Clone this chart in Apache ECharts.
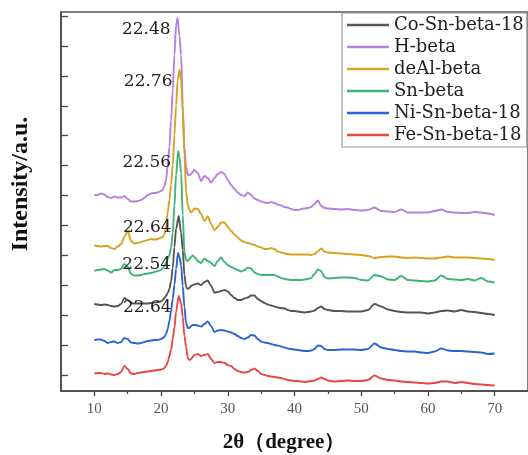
<!DOCTYPE html>
<html>
<head>
<meta charset="utf-8">
<script src="https://cdn.jsdelivr.net/npm/echarts@6/dist/echarts.min.js"></script>
<style>
  html, body { margin: 0; padding: 0; background: #fff; }
  #chart { width: 528px; height: 455px; }
</style>
</head>
<body>
<div id="chart"></div>
<script>
// Diffraction angle grid (degrees), finer around the main reflection
const twoTheta = [
  10, 10.5, 11, 11.5, 12, 12.5, 13, 13.5, 14, 14.5, 15, 15.5, 16, 16.5, 17, 17.5, 18, 18.5, 19, 19.5, 20,
  20.25, 20.5, 20.75, 21, 21.25, 21.5, 21.75, 22, 22.25, 22.5, 22.75, 23, 23.25, 23.5, 23.75, 24, 24.25, 24.5, 24.75, 25,
  25.5, 26, 26.5, 27, 27.5, 28, 28.5, 29, 29.5, 30, 30.5, 31, 31.5, 32, 32.5, 33, 33.5, 34, 34.5, 35,
  35.5, 36, 36.5, 37, 37.5, 38, 38.5, 39, 39.5, 40, 40.5, 41, 41.5, 42, 42.5, 43, 43.5, 44, 44.5, 45,
  46, 47, 48, 49, 50, 51, 52, 53, 54, 55, 56, 57, 58, 59, 60, 61, 62, 63, 64, 65, 66, 67, 68, 69, 70
];

// Stacked intensity traces (offset, arbitrary units)
const hBeta = [
  196, 196, 197.5, 196.5, 194, 193, 194.5, 193.5, 193.5, 195, 192, 189.5, 189.5, 190, 191, 193, 196, 197.5, 198, 198.5, 200,
  201, 205, 211, 226, 244, 271, 301, 336, 366, 372, 355, 336, 286, 244, 224, 216, 216, 217, 219, 221,
  218, 210, 215, 213, 208.5, 213, 217, 219, 217, 211, 206, 202, 198.5, 196, 195, 198.5, 196, 192.5, 191, 189.5,
  188.5, 188, 189, 188, 186.5, 185.5, 184, 183.5, 182, 181, 181, 182, 182.5, 183, 184, 187, 190.5, 185, 183, 182.5,
  182, 181.5, 182, 181, 180.5, 181, 183.5, 180, 179.5, 179, 181.5, 178.5, 178.5, 178.5, 178.5, 180, 181.5, 179, 178.5, 178, 178, 179, 178.5, 177.5, 176
];
const deAlBeta = [
  145.5, 145, 144.5, 145, 145, 143, 142, 144.5, 147, 154, 160, 150, 147.5, 148, 149, 150, 151, 152, 151.5, 152, 153.5,
  154, 157, 163, 179, 191, 206, 226, 256, 286, 311, 320, 311, 279, 236, 199, 186, 181, 178.5, 180, 182.5,
  182, 177, 170, 174.5, 167, 161, 164, 168.5, 168.5, 164, 160, 156.5, 153.5, 150.5, 149, 148, 147, 146, 144.5, 143.5,
  142, 142, 143, 142, 139.5, 138.5, 137.5, 137, 136.5, 136.5, 136.5, 136.5, 136.5, 136.5, 136, 137, 139.5, 142.5, 139.5, 138.5,
  138, 137.5, 137, 136.5, 136, 135, 133, 134, 134.5, 134.5, 133.5, 133, 133.5, 133, 132.5, 132.5, 133.5, 134.5, 133.5, 133.5, 133.5, 133, 132.5, 132, 131
];
const snBeta = [
  120, 121, 121.5, 122, 120.5, 118.5, 121, 121, 122, 127, 124, 117, 115.5, 115.5, 116, 117, 117.5, 118, 119, 120, 121,
  123, 125, 128, 132, 136, 143, 158, 185, 216, 238, 234, 218, 176, 139, 131, 130, 132, 134, 135.5, 134,
  130, 128, 132.5, 130, 128, 125, 130, 133.5, 129, 126, 124, 122.5, 121, 119.5, 121, 123.5, 122.5, 118.5, 117, 116,
  116, 116, 116, 116, 114.5, 113, 112, 111.5, 111, 111, 111, 111, 111.5, 112, 113, 117, 121.5, 120, 114, 112.5,
  113, 113.5, 113.5, 113, 111, 110.5, 116, 114.5, 111.5, 111, 115, 111, 110.5, 110, 109.5, 110.5, 115.5, 112, 111.5, 111, 112, 110.5, 113, 109.5, 108.5
];
const coSnBeta18 = [
  87, 86.5, 86, 86.5, 86, 85, 84.5, 85, 87, 93, 91, 88, 87.5, 87.5, 87.5, 87.5, 87.5, 88, 88.5, 89, 89.5,
  91, 93, 95, 98, 102, 110, 123, 144, 162, 173, 172, 158, 141, 116, 104, 102, 103, 105, 106, 106.5,
  107.5, 106, 109, 110.5, 105, 98.5, 99, 100, 101, 99.5, 96, 93, 91, 91, 92.5, 93.5, 95.5, 95.5, 92, 90,
  88, 86.5, 85.5, 84.5, 83.5, 83, 82.5, 81, 80, 80, 79.5, 79, 78.5, 79, 79.5, 80.5, 83, 84.5, 82, 81,
  80, 80, 79.5, 79.5, 79.5, 81, 87, 84.5, 81.5, 80, 79, 78.5, 78.5, 78.5, 77.5, 78.5, 80, 80.5, 79.5, 81, 79.5, 79, 78, 77, 76
];
const niSnBeta18 = [
  51, 51.5, 51.5, 50, 48, 49, 49.5, 48, 49, 53, 52, 48.5, 48, 47.5, 48, 49, 50, 50.5, 51, 51, 52,
  53, 54, 57, 62, 70, 80, 92, 106, 122, 137, 134, 126, 105, 84, 68, 63, 63, 65, 66, 66,
  65.5, 64.5, 67, 69.5, 65, 59, 60.5, 61, 60.5, 59.5, 58.5, 57, 55, 53, 52, 53.5, 56, 55.5, 52, 49.5,
  48.5, 48, 47, 46, 45.5, 44.5, 43.5, 42.5, 42, 41.5, 41, 40.5, 40, 40, 40.5, 42, 45.5, 45, 42, 41,
  41, 41.5, 41.5, 41.5, 41, 42, 47.5, 43.5, 42, 41, 40, 39.5, 39.5, 38.5, 38, 39.5, 42.5, 40.5, 40, 40, 39.5, 39, 38.5, 37, 37.5
];
const feSnBeta18 = [
  17.5, 18, 18, 17, 17.5, 16.5, 16, 17, 19, 25, 22, 17.5, 17, 18, 18.5, 19, 19.5, 20, 20.5, 21, 21.5,
  22, 23, 25, 29, 35, 41, 52, 63, 79, 92, 94, 88, 74, 55, 44, 33, 31, 32, 34, 36,
  37, 35, 36, 37, 32, 28, 29, 29, 28, 26, 25, 22, 20, 19, 18.5, 19, 21, 22.5, 20, 17,
  16, 15, 14.5, 14, 13.5, 13, 12, 11, 10.5, 10, 10, 9.5, 9, 9.5, 10, 10.5, 12, 13.5, 12, 10.5,
  9.5, 10, 10.5, 10, 10, 11, 15.5, 12.5, 11, 10.5, 9.5, 9, 8.5, 8, 7.5, 8, 9.5, 9.5, 8, 9, 8, 7, 6.5, 6, 5.5
];

// Main reflection of each sample: position (2θ) and apex intensity
const sampleNames = ['Co-Sn-beta-18', 'H-beta', 'deAl-beta', 'Sn-beta', 'Ni-Sn-beta-18', 'Fe-Sn-beta-18'];
const peakPos = [22.64, 22.48, 22.76, 22.56, 22.54, 22.64];
const peakTop = [175, 373, 321, 240, 138, 95];

// Axis ticks
const xTicks = [10, 20, 30, 40, 50, 60, 70];
const xMinorTicks = [15, 25, 35, 45, 55, 65];
const yTicks = [16, 45.9, 75.8, 105.7, 135.6, 165.6, 195.5, 225.4, 255.3, 285.2, 315.1, 345, 375];

const traces = {
  'Co-Sn-beta-18': coSnBeta18,
  'H-beta': hBeta,
  'deAl-beta': deAlBeta,
  'Sn-beta': snBeta,
  'Ni-Sn-beta-18': niSnBeta18,
  'Fe-Sn-beta-18': feSnBeta18
};
const colors = {
  'Co-Sn-beta-18': '#555555',
  'H-beta': '#b67fe0',
  'deAl-beta': '#d8a21c',
  'Sn-beta': '#3cb477',
  'Ni-Sn-beta-18': '#2a64d4',
  'Fe-Sn-beta-18': '#e94646'
};

// Merge the scan grid with the reflection apex so the peak sits at its labelled angle
function buildCurve(values, pos, top) {
  const pts = [];
  twoTheta.forEach((x, i) => {
    if (Math.abs(x - pos) >= 0.15) pts.push([x, values[i]]);
  });
  pts.push([pos, top]);
  pts.sort((a, b) => a[0] - b[0]);
  return pts;
}

const drawOrder = ['H-beta', 'deAl-beta', 'Sn-beta', 'Co-Sn-beta-18', 'Ni-Sn-beta-18', 'Fe-Sn-beta-18'];
const labelFont = 'DejaVu Serif';

const series = drawOrder.map(name => {
  const k = sampleNames.indexOf(name);
  return {
    name: name,
    type: 'line',
    showSymbol: false,
    smooth: 0.3,
    smoothMonotone: 'x',
    data: buildCurve(traces[name], peakPos[k], peakTop[k]),
    lineStyle: { width: 1.9, color: colors[name] },
    itemStyle: { color: colors[name] },
    z: 3,
    markPoint: {
      symbol: 'circle',
      symbolSize: 0,
      silent: true,
      data: [{ coord: [peakPos[k], peakTop[k]], value: peakPos[k] }],
      label: {
        show: true,
        position: 'left',
        distance: 7,
        offset: [0, 12],
        formatter: p => p.value.toFixed(2),
        color: '#222',
        fontFamily: labelFont,
        fontSize: 17
      }
    }
  };
});

const chart = echarts.init(document.getElementById('chart'), null, { renderer: 'canvas' });
chart.setOption({
  animation: false,
  backgroundColor: '#fff',
  grid: {
    left: 61, top: 12, width: 468, height: 379,
    show: true, borderColor: '#555', borderWidth: 1.5, backgroundColor: 'transparent'
  },
  legend: {
    data: sampleNames,
    orient: 'vertical',
    left: 342, top: 13,
    icon: 'rect',
    itemWidth: 42, itemHeight: 2.5,
    itemGap: 0,
    padding: [1, 3, 1, 5],
    borderColor: '#999', borderWidth: 1.2,
    backgroundColor: '#fff',
    textStyle: { fontFamily: labelFont, fontSize: 18, color: '#222', lineHeight: 22, height: 22 }
  },
  xAxis: [
    {
      type: 'value', min: 5, max: 75,
      axisLine: { lineStyle: { color: '#444', width: 1.5 } },
      axisTick: { customValues: xTicks, length: 5, lineStyle: { color: '#444', width: 1.3 } },
      axisLabel: { customValues: xTicks, fontFamily: 'Liberation Serif', fontSize: 15, color: '#555', margin: 11 },
      splitLine: { show: false }
    },
    {
      type: 'value', min: 5, max: 75, position: 'bottom',
      axisLine: { show: false },
      axisTick: { customValues: xMinorTicks, length: 3, lineStyle: { color: '#444', width: 1.2 } },
      axisLabel: { show: false },
      splitLine: { show: false }
    }
  ],
  yAxis: {
    type: 'value', min: 0, max: 379,
    axisLine: { show: true, lineStyle: { color: '#444', width: 1.5 } },
    axisTick: { show: true, inside: true, length: 7, customValues: yTicks, lineStyle: { color: '#444', width: 1.3 } },
    axisLabel: { show: false },
    splitLine: { show: false }
  },
  color: drawOrder.map(n => colors[n]),
  series: series,
  graphic: [
    {
      type: 'text', x: 21, y: 184, rotation: Math.PI / 2,
      style: {
        text: 'Intensity/a.u.', fill: '#111',
        font: 'bold 24px "Liberation Serif"',
        textAlign: 'center', textVerticalAlign: 'middle'
      }
    },
    {
      type: 'text', x: 284, y: 443,
      style: {
        text: '2θ（degree）', fill: '#111',
        font: 'bold 21px "Liberation Serif"',
        textAlign: 'center', textVerticalAlign: 'middle'
      }
    }
  ]
});
</script>
</body>
</html>
